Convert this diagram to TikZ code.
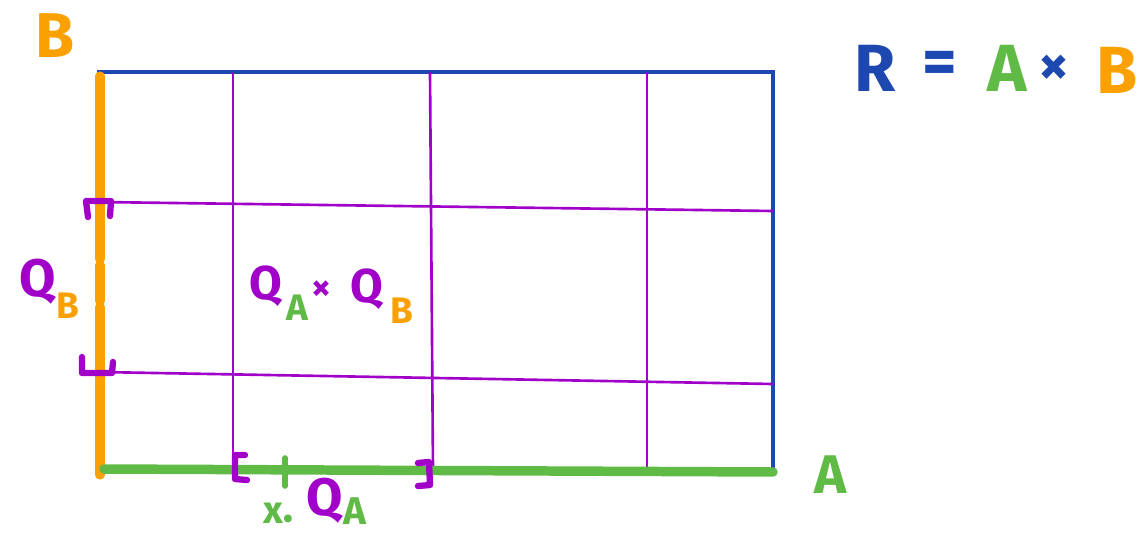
\documentclass[tikz,border=0pt]{standalone}
\usepackage{fontspec}
\setmainfont{Fira Sans}
\usetikzlibrary{positioning}
\definecolor{rblue}{RGB}{28,72,176}
\definecolor{qpurple}{RGB}{160,0,200}
\definecolor{borange}{RGB}{250,160,0}
\definecolor{agreen}{RGB}{96,186,70}

\tikzset{
    frame/.style={draw=rblue, line width=1.9pt},
    cut/.style={draw=qpurple, line width=1.5pt},
    brk/.style={draw=qpurple, line width=3.6pt, line cap=round, line join=round},
    axisb/.style={draw=borange, line width=5.2pt, line cap=round},
    axisa/.style={draw=agreen, line width=5.4pt, line cap=round},
    hand/.style={inner sep=0pt, font=\bfseries\fontsize{#1}{#1}\selectfont},
}

\begin{document}
\begin{tikzpicture}[x=0.02cm, y=-0.02cm]
    \useasboundingbox (0,0) rectangle (1147,538);

    % corners of R
    \coordinate (tl) at (99,72);
    \coordinate (tr) at (773,72);
    \coordinate (br) at (773,472);
    \coordinate (bl) at (99,472);

    % cuts of A and B
    \coordinate (a1t) at (233,72);  \coordinate (a1b) at (233,470);
    \coordinate (a2t) at (430,72);  \coordinate (a2b) at (433,470);
    \coordinate (a3t) at (647,72);  \coordinate (a3b) at (647,472);
    \coordinate (b1l) at (99,202);  \coordinate (b1r) at (773,211);
    \coordinate (b2l) at (99,372);  \coordinate (b2r) at (773,384);

    \draw[frame] (bl) -- (tl) -- (tr) -- (br) -- (bl);
    \draw[cut] (a1t) -- (a1b);
    \draw[cut] (a2t) -- (a2b);
    \draw[cut] (a3t) -- (a3b);
    \draw[cut] (b1l) -- (b1r);
    \draw[cut] (b2l) -- (b2r);

    % axes
    \draw[axisb] (100,76) -- (100,259);
    \draw[axisb] (100,265) -- (100,301);
    \draw[axisb] (100,307) -- (100,475);
    \draw[axisa] (104,469) -- (br);

    % interval on B
    \draw[brk] (88,217) -- (86,201) -- (111,201) -- (110,216);
    \draw[brk] (82,357) -- (82,373) -- (112,373) -- (113,362);

    % interval on A
    \draw[brk] (245,455) -- (235,455) -- (235,479) -- (247,480);
    \draw[brk] (418,463) -- (429,462) -- (430,485) -- (418,486);
    \coordinate (x0) at (285,458);
    \draw[agreen, line width=3.2pt, line cap=round] (x0) -- ++(0,28);

    % labels
    \node[hand=36, text=borange] (lb) at (55,36) {B};
    \node[hand=31, text=agreen] (la) at (831,475) {A};

    \node[hand=38, text=rblue] (rr) at (875,68) {R};
    \node[hand=38, text=rblue] (req) at (940,68) {=};
    \node[hand=38, text=agreen] (ra) at (1007,68) {A};
    \node[hand=34, text=rblue] (rx) at (1054,70) {×};
    \node[hand=38, text=borange] (rb) at (1117,70) {B};

    \node[hand=30, text=qpurple] (qb) at (38,282) {Q};
    \node[hand=21, text=borange] (qbs) at (68,306) {B};

    \node[hand=27, text=qpurple] (qq1) at (266,286) {Q};
    \node[hand=21, text=agreen] (qq1s) at (297,308) {A};
    \node[hand=22, text=qpurple] (qqx) at (322,291) {×};
    \node[hand=27, text=qpurple] (qq2) at (367,289) {Q};
    \node[hand=21, text=borange] (qq2s) at (402,311) {B};

    \node[hand=22, text=agreen] (lx0) at (278,516) {x\raisebox{-0.12em}{\fontsize{16}{16}\selectfont •}};
    \node[hand=30, text=qpurple] (qa) at (325,501) {Q};
    \node[hand=22, text=agreen] (qas) at (355,511) {A};
\end{tikzpicture}
\end{document}
